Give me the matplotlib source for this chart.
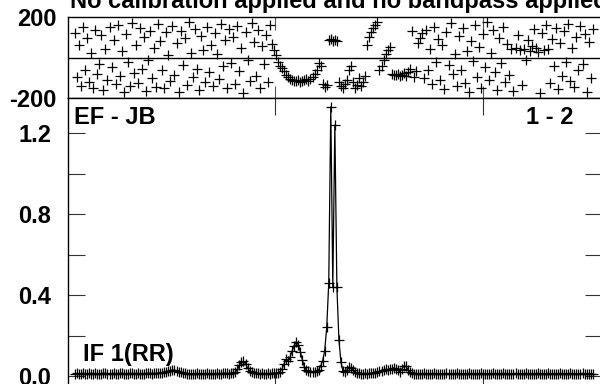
import numpy as np
import matplotlib.pyplot as plt

# amplitude per channel (256 channels)
amplitude = [
    0.012, 0.013, 0.011, 0.012, 0.014, 0.012, 0.011, 0.013, 0.012, 0.012,
    0.013, 0.011, 0.012, 0.012, 0.014, 0.013, 0.012, 0.011, 0.012, 0.013,
    0.012, 0.012, 0.013, 0.014, 0.012, 0.011, 0.012, 0.013, 0.013, 0.012,
    0.012, 0.013, 0.012, 0.011, 0.012, 0.013, 0.014, 0.013, 0.012, 0.013,
    0.013, 0.014, 0.015, 0.016, 0.018, 0.020, 0.024, 0.027, 0.030, 0.029,
    0.026, 0.022, 0.018, 0.015, 0.013, 0.012, 0.012, 0.011, 0.012, 0.012,
    0.013, 0.012, 0.011, 0.012, 0.012, 0.013, 0.012, 0.012, 0.011, 0.012,
    0.013, 0.012, 0.012, 0.013, 0.014, 0.013, 0.012, 0.013, 0.015, 0.020,
    0.033, 0.052, 0.068, 0.072, 0.060, 0.040, 0.026, 0.018, 0.015, 0.014,
    0.013, 0.012, 0.013, 0.012, 0.012, 0.013, 0.012, 0.013, 0.014, 0.013,
    0.016, 0.022, 0.035, 0.060, 0.082, 0.075, 0.095, 0.125, 0.150, 0.170,
    0.155, 0.120, 0.080, 0.045, 0.028, 0.024, 0.022, 0.021, 0.020, 0.023,
    0.030, 0.050, 0.075, 0.125, 0.240, 0.460, 1.330, 0.440, 1.240, 0.440,
    0.180, 0.070, 0.025, 0.020, 0.030, 0.045, 0.040, 0.028, 0.020, 0.015,
    0.013, 0.012, 0.012, 0.013, 0.012, 0.013, 0.014, 0.015, 0.017, 0.020,
    0.024, 0.027, 0.030, 0.033, 0.030, 0.034, 0.037, 0.040, 0.036, 0.030,
    0.022, 0.035, 0.050, 0.048, 0.032, 0.018, 0.013, 0.012, 0.012, 0.011,
    0.012, 0.012, 0.013, 0.012, 0.011, 0.012, 0.012, 0.013, 0.012, 0.012,
    0.011, 0.012, 0.012, 0.013, 0.012, 0.012, 0.011, 0.012, 0.013, 0.012,
    0.012, 0.011, 0.012, 0.012, 0.013, 0.012, 0.012, 0.011, 0.012, 0.012,
    0.013, 0.012, 0.012, 0.011, 0.012, 0.012, 0.013, 0.012, 0.011, 0.012,
    0.012, 0.013, 0.012, 0.012, 0.011, 0.012, 0.012, 0.013, 0.012, 0.012,
    0.011, 0.012, 0.013, 0.012, 0.012, 0.011, 0.012, 0.012, 0.013, 0.012,
    0.012, 0.011, 0.012, 0.013, 0.012, 0.012, 0.011, 0.012, 0.012, 0.013,
    0.012, 0.012, 0.011, 0.012, 0.013, 0.012, 0.012, 0.011, 0.012, 0.012,
    0.013, 0.012, 0.012, 0.011, 0.012, 0.012,
]

# phase per channel, degrees
phase = [
    120, -95, 60, -140, 150, -60, 95, -120, 20, -150,
    135, -80, -30, 110, -160, 40, -110, 150, -45, 85,
    -130, 160, -90, 30, -170, 115, -20, -140, 170, -75,
    60, -125, 145, -55, 100, -165, -10, 130, -100, 45,
    -145, 165, 80, -60, -150, 125, 10, -115, 155, -85,
    70, -170, 130, -35, 95, -135, 175, 20, -95, 140,
    -55, -160, 105, 35, -120, 150, -70, 60, -140, 120,
    15, -105, 165, -40, 85, -150, 140, -25, 100, -130,
    155, -65, 45, -175, 125, -10, -115, 170, 75, -90,
    135, -150, 55, -30, 110, -120, 160, 65, 35, 10,
    -20, -40, -50, -65, -85, -95, -105, -110, -115, -118,
    -112, -120, -115, -110, -105, -115, -108, -95, -80, -60,
    -25, -40, -130, -145, -135, 85, 90, 82, 88, 80,
    -120, -140, -150, -130, -110, -60, -40, -120, -150, -135,
    -100, -140, -120, -90, 60, 100, 125, 145, 160, 175,
    -60, -40, -10, 15, 35, 50, -80, -85, -88, -82,
    -90, -85, -78, -92, -70, -55, 130, -95, -65, 70,
    95, 120, -100, 135, -60, 40, -130, 150, -20, 90,
    -110, 60, -155, 125, -35, 170, -80, 15, -140, 105,
    -60, 145, -125, 30, -170, 80, -15, 160, -95, 50,
    -150, 115, -45, 175, -110, 20, 135, -70, -160, 95,
    -25, 150, -120, 65, -85, 40, -165, 45, 110, 35,
    -135, 40, -10, 85, 30, 55, 140, 45, 25, -175,
    120, 35, 160, 40, -125, 90, -40, 145, -155, 70,
    -90, 130, -20, 165, -115, 45, -145, 100, -60, 155,
    -30, 115, -170, 75, -100, 140,
]

channels = np.arange(len(amplitude))
xticks_ch = [98.5, 201]

W, H = 600, 384
fig = plt.figure(figsize=(6, 3.84), dpi=100)


def px_axes(left, top, right, bottom):
    return fig.add_axes([left / W, 1 - bottom / H, (right - left) / W, (bottom - top) / H])


font = dict(family='Liberation Sans', weight='bold', size=17)

ax_ph = px_axes(68, 17, 602, 98)
ax_amp = px_axes(68, 98, 602, 390)

# channel c sits at pixel 75 + 2.03 c
xlim = ((68 - 75) / 2.03, (602 - 75) / 2.03)

ax_ph.plot(channels, phase, '+', color='black', ms=7, mew=0.9)
ax_ph.axhline(0, color='black', lw=1)
ax_ph.set_xlim(xlim)
ax_ph.set_ylim(-200, 200)
ax_ph.set_yticks([-200, 200])
ax_ph.set_yticklabels(['-200', '200'], **font)
ax_ph.set_xticks(xticks_ch)
ax_ph.set_xticklabels([])
ax_ph.tick_params(axis='x', direction='in', length=9, top=True, bottom=True, color='#555555')
ax_ph.tick_params(axis='y', length=0, pad=8)

ax_amp.plot(channels, amplitude, '-+', color='black', lw=0.9, ms=7, mew=0.9)
ax_amp.set_xlim(xlim)
ax_amp.set_ylim(-0.069, 1.373)
ax_amp.set_yticks(np.arange(0, 1.3, 0.2))
ax_amp.set_yticklabels(['0.0', '', '0.4', '', '0.8', '', '1.2'], **font)
ax_amp.set_xticks(xticks_ch)
ax_amp.set_xticklabels([])
ax_amp.tick_params(direction='in', length=12, top=True, right=True, color='#333333')
ax_amp.tick_params(axis='y', pad=12)

for ax in (ax_ph, ax_amp):
    for s in ax.spines.values():
        s.set_linewidth(1)

ax_amp.text(74 / W, 1 - 117 / H, 'EF - JB', transform=fig.transFigure, va='center', **font)
ax_amp.text(574 / W, 1 - 118 / H, '1 - 2', transform=fig.transFigure, va='center', ha='right', **font)
ax_amp.text(83 / W, 1 - 355 / H, 'IF 1(RR)', transform=fig.transFigure, va='center', **font)
fig.text(70 / W, 1 - 8 / H, 'No calibration applied and no bandpass applied', va='baseline', **font)

fig.savefig('out.png', dpi=100)
